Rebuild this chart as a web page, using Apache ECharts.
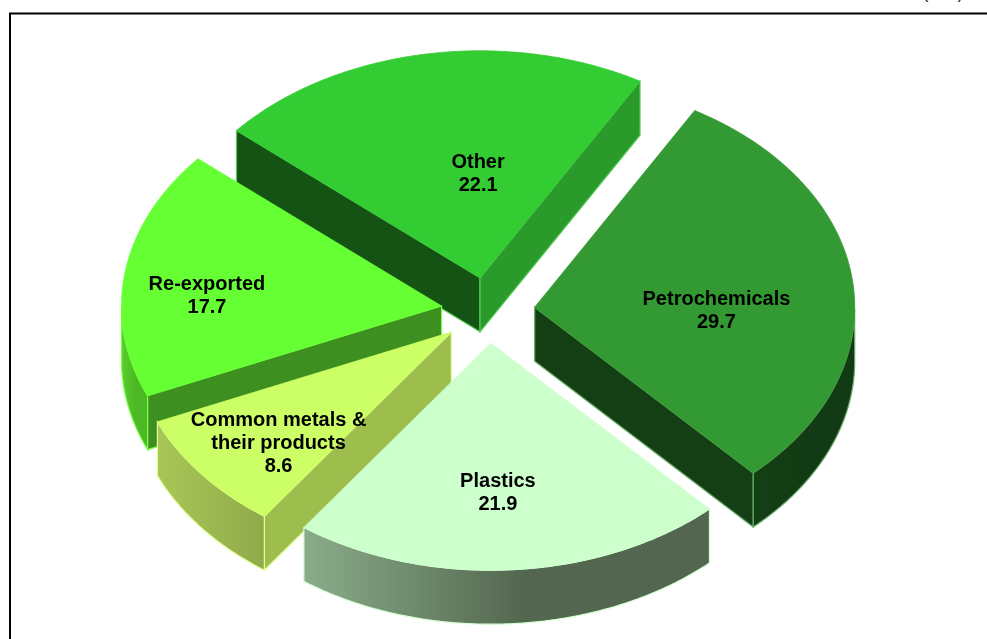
<!DOCTYPE html>
<html>
<head>
<meta charset="utf-8">
<style>html,body{margin:0;padding:0;background:#fff}#c{width:987px;height:639px}</style>
<script src="https://cdn.jsdelivr.net/npm/echarts@6/dist/echarts.min.js"></script>
</head>
<body>
<div id="c"></div>
<script>
const categories = ['Petrochemicals', 'Plastics', 'Common metals &\ntheir products', 'Re-exported', 'Other'];
const shares = [29.7, 21.9, 8.6, 17.7, 22.1];
const unitLabel = '( % )';

// styling of each slice, in the same order as the categories
const explode = [47, 45, 47, 47, 47];
const labelAcross = [0.568, 0.022, -0.54, -0.733, -0.006];
const labelAlong = [0.017, 0.662, 0.489, -0.043, -0.456];
const topColors = ['#339933', '#CCFFCC', '#CCFF66', '#66FF33', '#33CC33'];
const leftWall = ['#143F14', '#53664F', '#9DBE4D', '#3D8F1F', '#155315'];
const rightWall = ['#143F14', '#53664F', '#9DBE4D', '#3D8F1F', '#2A9A2A'];
const rimFrom = ['#143F14', '#8AAD8A', '#A8C757', '#5AD02C', '#2A9A2A'];
const rimTo = ['#123A14', '#53664F', '#90AA4A', '#4CB826', '#2A9A2A'];
const rimStop = [0.55, 0.55, 1, 0.55, 0.55];
const glow = ['#66AA66', '#D4FFD4', '#E4FF99', '#77FF44', '#55CC55'];

const CX = 488, CY = 311, RX = 320, RY = 227, DEPTH = 54, SQUASH = 0.717, START = 60;
const total = shares.reduce((a, b) => a + b, 0);
const rad = d => d * Math.PI / 180;

function renderItem(params, api) {
  const i = params.dataIndex;
  const before = shares.slice(0, i).reduce((a, b) => a + b, 0);
  const a0 = START - before / total * 360;
  const a1 = a0 - api.value(0) / total * 360;
  const mid = (a0 + a1) / 2;
  const ax = CX + explode[i] * Math.cos(rad(mid));
  const ay = CY - explode[i] * SQUASH * Math.sin(rad(mid));
  const rim = a => [ax + RX * Math.cos(rad(a)), ay - RY * Math.sin(rad(a))];
  const down = p => [p[0], p[1] + DEPTH];
  const z = Math.round((1 - Math.sin(rad(mid))) * 100) * 10;

  const arc = [];
  const steps = Math.ceil((a0 - a1) * 2);
  for (let k = 0; k <= steps; k++) arc.push(rim(a0 + (a1 - a0) * k / steps));

  const children = [];
  const poly = (points, fill, stroke, zz) => children.push({
    type: 'polygon', z2: z + zz, shape: { points },
    style: { fill, stroke: stroke || fill, lineWidth: 1.2 }
  });
  const apex = [ax, ay];

  // Straight cut faces: shown when their outward normal faces the viewer
  const pStart = rim(a0), pEnd = rim(a1);
  if (Math.sin(rad(a0 + 90)) < 0) {
    poly([apex, pStart, down(pStart), down(apex)], Math.cos(rad(a0 + 90)) < 0 ? leftWall[i] : rightWall[i], glow[i], 1);
  }
  if (Math.sin(rad(a1 - 90)) < 0) {
    poly([apex, pEnd, down(pEnd), down(apex)], Math.cos(rad(a1 - 90)) < 0 ? leftWall[i] : rightWall[i], glow[i], 1);
  }
  // Outer rim: only the arc on the near half of the ellipse
  const near = [];
  for (let k = 0; k <= steps; k++) {
    const a = a0 + (a1 - a0) * k / steps;
    if (Math.sin(rad(a)) <= 0) near.push(rim(a));
  }
  if (near.length > 1) {
    const fill = new echarts.graphic.LinearGradient(0, 0, 1, 0, [
      { offset: 0, color: rimFrom[i] },
      { offset: rimStop[i], color: rimTo[i] },
      { offset: 1, color: rimTo[i] }
    ]);
    poly(near.concat(near.slice().reverse().map(down)), fill, glow[i], 2);
  }
  // Top face
  children.push({
    type: 'polygon', z2: z + 3, shape: { points: [apex].concat(arc) },
    style: { fill: topColors[i], stroke: topColors[i], lineWidth: 0.8 }
  });
  // Label
  children.push({
    type: 'text', z2: 5000,
    style: {
      x: ax + labelAcross[i] * RX,
      y: ay + labelAlong[i] * RY,
      text: categories[i] + '\n' + api.value(0).toFixed(1),
      font: 'bold 20px "Liberation Sans", Arial, sans-serif',
      lineHeight: 23, fill: '#000', align: 'center', verticalAlign: 'middle'
    }
  });
  return { type: 'group', children };
}

const chart = echarts.init(document.getElementById('c'), null, { renderer: 'canvas' });
chart.setOption({
  animation: false,
  backgroundColor: '#fff',
  graphic: [
    { type: 'polyline', shape: { points: [[10, 639], [10, 13.5], [987, 13.5]] }, style: { fill: 'none', stroke: '#000', lineWidth: 2 } },
    { type: 'text', x: 943, y: -18, style: { text: unitLabel, font: '20px "Liberation Sans", Arial, sans-serif', fill: '#333', align: 'center' } }
  ],
  series: [{
    type: 'custom',
    coordinateSystem: 'none',
    renderItem,
    silent: true,
    data: shares.map(v => [v])
  }]
});
</script>
</body>
</html>
